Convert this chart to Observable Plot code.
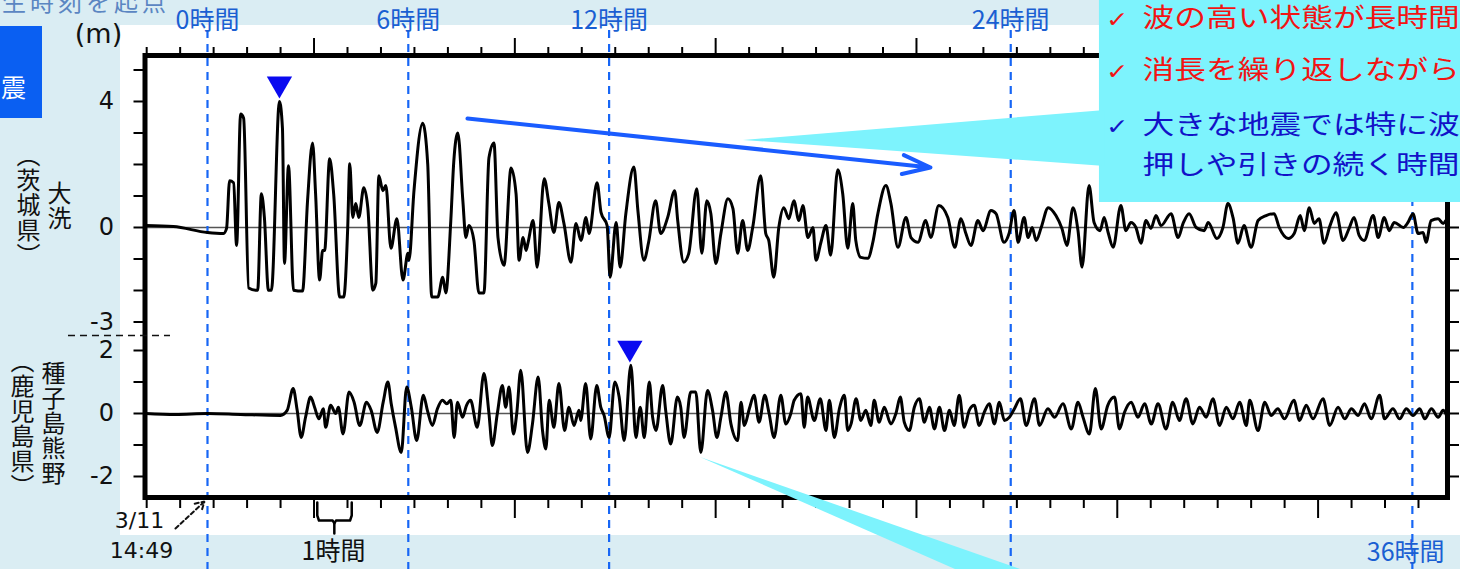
<!DOCTYPE html>
<html><head><meta charset="utf-8">
<script src="https://cdn.jsdelivr.net/npm/d3@7"></script>
<script src="https://cdn.jsdelivr.net/npm/@observablehq/plot@0.6"></script>
<style>
html,body{margin:0;padding:0;background:#daedf3;}
#wrap{position:relative;width:1460px;height:569px;overflow:hidden;background:#daedf3;}
#white{position:absolute;left:120px;top:25px;width:1340px;height:510px;background:#fff;}
#chart{position:absolute;left:0;top:0;}
.vt{position:absolute;writing-mode:vertical-rl;font-family:"Noto Sans CJK JP";font-size:24px;line-height:1;color:#111;letter-spacing:1px;white-space:nowrap;}
.co{position:absolute;left:1106px;font-family:"Noto Sans CJK JP";font-size:26px;line-height:26px;white-space:nowrap;transform:scaleX(1.22);transform-origin:0 0;}
.co .ck{display:inline-block;width:30px;font-family:"DejaVu Sans";font-size:22px;}
</style></head>
<body>
<div id="wrap">
  <div id="white"></div>
  <div style="position:absolute;right:1290px;top:-17px;font-family:'Noto Sans CJK JP';font-size:24px;letter-spacing:4px;color:#5b86c2;white-space:nowrap;">地震発生時刻を起点</div>
  <div style="position:absolute;left:0;top:26px;width:42px;height:92px;background:#0a5ff2;"></div>
  <div style="position:absolute;left:1px;top:74px;font-family:'Noto Sans CJK JP';font-size:25px;line-height:25px;color:#fff;">震</div>
  <div id="chart"></div>
  <div class="vt" style="left:47px;top:181px;">大洗</div>
  <div class="vt" style="left:16px;top:143px;">（茨城県）</div>
  <div class="vt" style="left:41px;top:361px;">種子島熊野</div>
  <div class="vt" style="left:10px;top:349px;">（鹿児島県）</div>
  <div class="co" style="top:3px;color:#f21414;"><span class="ck">✓</span>波の高い状態が長時間</div>
  <div class="co" style="top:55px;color:#f21414;"><span class="ck">✓</span>消長を繰り返しながら</div>
  <div class="co" style="top:110px;color:#1212c8;"><span class="ck">✓</span>大きな地震では特に波</div>
  <div class="co" style="top:150px;color:#1212c8;padding-left:30px;">押しや引きの続く時間</div>
</div>
<script>
// ---- data: hours since 3/11 14:49, sea level anomaly (m) ----
const oaraiHours = [
-1.85,-1.02,0,0.48,0.57,0.66,0.78,0.87,0.99,1.08,
1.23,1.44,1.50,1.61,1.70,1.82,1.91,2.15,2.24,2.30,
2.42,2.57,2.84,2.99,3.14,3.23,3.35,3.44,3.50,3.65,
3.77,3.95,4.07,4.19,4.25,4.34,4.43,4.52,4.67,4.79,
4.94,5.03,5.12,5.24,5.33,5.48,5.66,5.84,5.99,6.02,
6.17,6.43,6.58,6.70,6.88,7.03,7.12,7.27,7.36,7.48,
7.63,7.72,7.81,7.96,8.11,8.26,8.41,8.56,8.68,8.86,
9.07,9.22,9.31,9.43,9.52,9.58,9.73,9.85,10.06,10.20,
10.35,10.50,10.65,10.86,11.01,11.16,11.31,11.40,11.64,11.76,
11.94,12.03,12.21,12.33,12.50,12.74,12.86,13.04,13.18,13.39,
13.54,13.75,13.96,14.05,14.23,14.38,14.62,14.77,14.92,15.04,
15.19,15.34,15.55,15.70,15.84,15.99,16.14,16.29,16.53,16.68,
16.77,16.92,17.07,17.22,17.37,17.52,17.67,17.79,17.94,18.09,
18.18,18.33,18.48,18.62,18.83,18.98,19.13,19.28,19.37,19.52,
19.73,19.88,20.03,20.27,20.42,20.63,20.87,21.02,21.23,21.46,
21.61,21.85,22.12,22.33,22.51,22.66,22.81,23.02,23.17,23.41,
23.56,23.80,23.95,24.10,24.22,24.40,24.52,24.64,24.76,24.91,
25.12,25.35,25.53,25.68,25.86,26.01,26.13,26.34,26.49,26.67,
26.79,26.91,27.06,27.29,27.44,27.59,27.74,27.89,28.04,28.19,
28.34,28.49,28.79,29.00,29.15,29.33,29.54,29.78,29.90,30.16,
30.34,30.49,30.64,30.79,30.97,31.18,31.39,31.63,31.87,32.02,
32.29,32.47,32.65,32.77,32.92,33.07,33.21,33.36,33.54,33.72,
33.93,34.11,34.26,34.41,34.56,34.83,34.98,35.16,35.31,35.46,
35.73,35.87,36.02,36.17,36.32,36.41,36.56,36.77,36.92,37.0];
const oaraiLevel = [
0.06,0.03,-0.16,-0.19,-0.03,1.48,1.42,-0.57,3.6,3.47,
-1.92,-1.99,-1.99,1.07,0.32,-1.99,-1.99,4.0,3.15,-1.14,
1.96,-1.99,-2.02,0.85,2.68,1.07,-1.67,-0.73,-0.73,2.18,
1.07,-2.21,-2.21,0,2.02,0.32,0.76,0.32,1.26,0.63,
-1.99,-1.77,1.64,1.17,1.33,-0.66,0.28,-1.67,-0.82,-1.04,
1.17,3.31,2.02,-2.21,-2.21,-1.58,-2.08,0.22,2.11,3.0,
0.85,-0.32,0.06,-0.41,-2.08,-2.08,2.21,2.68,-0.32,-1.2,
1.89,1.07,-1.04,-0.32,-0.73,-0.47,0.22,-1.26,1.55,0.76,
-0.16,0.79,0.13,-1.1,0.13,-0.41,0.32,-0.19,1.42,0.47,
0.06,-1.58,0.16,-1.26,0.44,1.92,0.54,-1.04,-0.47,0.85,
-0.19,0.32,1.17,0.22,-1.1,-0.82,1.23,-0.82,0.85,0.44,
-1.14,-0.19,0.91,0.6,-0.82,0.22,-0.73,0,1.64,-0.19,
-0.41,-1.58,0,0.63,0.28,0.85,0.22,0.7,-0.32,0,
-1.04,-0.47,0.06,-0.88,1.83,1.07,-0.66,0.76,-0.41,-0.95,
-0.98,-0.47,0.44,1.33,0.76,-0.63,0.32,-0.32,-0.47,0.22,
-0.32,0.7,0.32,-0.63,0.28,-0.19,-0.57,0.22,-0.1,0.54,
0.44,-0.47,-0.19,0.54,-0.47,0.32,-0.32,0,-0.41,0,
0.63,0.38,-0.03,-0.57,0.63,-0.1,-1.26,1.33,0.16,-0.1,
0.32,-0.16,-0.63,0.7,-0.1,0.16,0,-0.5,0.22,-0.03,
0.38,0.06,0.44,-0.32,0.13,0.44,0,-0.1,0.16,-0.35,
0,0.76,0.32,-0.5,0.06,-0.63,0.22,0.38,0.44,0,
-0.35,-0.19,0.38,-0.1,0.63,0.13,0.28,-0.5,0.06,0.47,
-0.41,-0.03,0.32,-0.25,-0.41,0.38,-0.32,0.32,-0.1,0.16,
0,0.16,0.44,-0.19,-0.16,-0.47,0.22,0.28,0.13,0.22];

const kumanoHours = [
-1.85,-0.96,0,0.99,2.18,2.38,2.56,2.68,2.80,2.93,
3.08,3.20,3.33,3.46,3.53,3.68,3.83,3.91,4.05,4.23,
4.38,4.55,4.75,4.89,5.07,5.25,5.39,5.49,5.62,5.79,
5.95,6.09,6.25,6.45,6.57,6.72,6.87,7.02,7.15,7.27,
7.37,7.47,7.62,7.74,7.86,8.06,8.26,8.41,8.51,8.66,
8.81,8.91,9.01,9.14,9.24,9.36,9.56,9.71,9.88,10.01,
10.11,10.21,10.35,10.50,10.67,10.80,10.95,11.10,11.15,11.30,
11.45,11.63,11.75,11.85,12.00,12.17,12.30,12.45,12.65,12.80,
12.93,13.05,13.20,13.30,13.40,13.60,13.69,13.84,14.04,14.14,
14.24,14.44,14.59,14.74,14.94,15.09,15.22,15.34,15.49,15.64,
15.84,15.94,16.04,16.19,16.33,16.48,16.65,16.78,16.93,17.13,
17.28,17.43,17.53,17.73,17.83,17.93,18.13,18.31,18.48,18.58,
18.73,18.88,19.03,19.13,19.23,19.38,19.52,19.67,19.82,19.92,
20.07,20.22,20.42,20.57,20.70,20.82,20.97,21.12,21.27,21.42,
21.57,21.72,21.87,22.02,22.17,22.31,22.46,22.61,22.76,22.91,
23.06,23.21,23.36,23.51,23.66,23.81,23.96,24.11,24.29,24.46,
24.71,24.86,25.11,25.31,25.56,25.81,26.01,26.16,26.35,26.53,
26.70,26.90,27.10,27.25,27.40,27.60,27.80,28.00,28.20,28.40,
28.64,28.84,29.04,29.24,29.44,29.64,29.84,30.04,30.24,30.44,
30.64,30.84,31.04,31.14,31.39,31.59,31.78,31.98,32.18,32.46,
32.63,32.83,33.03,33.33,33.53,33.78,33.98,34.18,34.38,34.57,
34.77,35.02,35.17,35.42,35.62,35.82,36.02,36.22,36.37,36.57,
36.77,36.92,37.02];
const kumanoLevel = [
0,-0.03,0,-0.03,-0.06,0.1,0.79,0.1,-0.76,-0.12,
0.52,0.2,-0.17,0.15,-0.44,0.26,0,0.2,-0.65,0.68,
0.36,-0.38,0.36,0.1,-0.6,0.36,1.0,0.31,-0.44,-1.24,
0.84,0.2,-0.86,0.58,0.1,-0.38,0.15,0.42,0.31,0.42,
-0.76,0.36,-0.12,0.26,0.42,-0.44,1.27,0,-1.02,0,
0.89,0.2,0.84,-0.65,0,1.37,-1.24,-0.33,1.16,-0.54,
-1.13,0.42,-0.44,0.95,-0.54,0.2,-0.38,0.1,-0.22,0.95,
-0.81,0.89,0.2,-0.06,-0.76,1.0,0.52,-0.86,1.53,-0.76,
0.2,-0.76,1.0,-0.12,-0.54,0.89,0.1,-0.97,0.52,0.2,
-0.76,0.68,0.68,-1.24,0.73,0.1,-0.76,-0.12,0.68,-0.33,
-0.86,0.36,-0.38,0.15,0.58,-0.28,0.58,0,-0.76,0.58,
-0.33,0,0.42,0.63,-0.44,0.52,-0.22,0.47,-0.54,0.42,
-0.76,0.15,0.58,-0.54,-0.33,0.47,-0.22,0.1,-0.38,0.42,
-0.28,0.2,-0.33,0,0.52,-0.28,-0.54,0.2,0.47,-0.28,
0.2,-0.49,0.2,-0.54,0.1,-0.38,0.58,-0.44,0.1,0.26,
-0.38,0.04,0.31,-0.33,0.36,-0.22,-0.12,0.15,0.47,-0.38,
0.47,-0.38,0.15,-0.12,0.31,-0.49,0.36,-0.12,-0.65,0.79,
-0.49,0.26,0.52,-0.49,0.04,0.36,-0.12,0.31,-0.33,0.31,
-0.49,0.36,-0.22,0.47,-0.33,0.2,-0.12,0.47,-0.38,0.2,
-0.17,0.36,-0.38,0.42,-0.54,0.36,-0.06,0.15,-0.17,0.42,
-0.22,0.26,-0.17,0.47,-0.38,0.2,-0.17,0.15,-0.06,0.31,
-0.17,0.58,-0.17,0.15,-0.17,0.15,-0.06,0.15,-0.17,0.15,
-0.12,0.1,-0.06];

// peak markers (hours, level)
const peakHours = [2.15, 12.62];
const peakLevel = [4.0, 1.53];

// tick / label values
const upperTicks = [-3,-2,-1,0,1,2,3,4,5];
const upperLabeled = [4,0,-3];
const lowerTicks = [-2,-1,0,1,2];
const lowerLabeled = [2,0,-2];
const markHours = [0, 6, 12, 24, 36];
const topLabelHours = [0, 6, 12, 24];
const topLabels = ["0時間","6時間","12時間","24時間"];
const bottomLabelHours = [36];
const bottomLabels = ["36時間"];

// ---- layout helpers (stacked panels share one y scale) ----
const OFF = 5.905;                 // vertical offset of the 大洗 panel
const xDomain = [-1.867, 37.05];
const yDomain = [-2.667, 11.365];
const py = px => (413 - px) / 31.5;     // annotation placement helpers
const hx = px => (px - 207) / 33.47;

const upper = oaraiHours.map((h, i) => ({h, p: oaraiLevel[i] + OFF}));
const lower = kumanoHours.map((h, i) => ({h, p: kumanoLevel[i]}));
const peaks = [
  {h: peakHours[0], p: peakLevel[0] + OFF + 0.56},
  {h: peakHours[1], p: peakLevel[1] + 0.55}
];
const yTicks = lowerTicks.concat(upperTicks.map(v => v + OFF));
const fmtY = d => {
  if (d > 2.5) { const v = Math.round(d - OFF); return upperLabeled.includes(v) ? String(v) : ""; }
  const v = Math.round(d); return lowerLabeled.includes(v) ? String(v) : "";
};
const clock = d3.range(-2, 37).map(k => ({k, h: k + 11/60}));
const longT = clock.filter(d => (15 + d.k) % 6 === 0).map(d => d.h);
const shortT = clock.filter(d => (15 + d.k) % 6 !== 0).map(d => d.h);

const blue = "#1766f5";
const cyan = "#7df3fd";

const brace = [
  {h:3.28,p:py(502)},{h:3.28,p:py(515)},{h:3.33,p:py(520)},{h:3.74,p:py(520)},{h:3.79,p:py(523)},{h:3.79,p:py(533)}
];
const brace2 = [
  {h:4.31,p:py(502)},{h:4.31,p:py(515)},{h:4.26,p:py(520)},{h:3.84,p:py(520)},{h:3.79,p:py(523)}
];

const chart = Plot.plot({
  width: 1460, height: 569,
  marginLeft: 144.5, marginRight: 13, marginTop: 55, marginBottom: 72,
  style: {background: "transparent", overflow: "visible"},
  x: {domain: xDomain},
  y: {domain: yDomain},
  marks: [
    Plot.ruleY([0, OFF], {stroke: "#555", strokeWidth: 1.5}),
    Plot.ruleX(markHours, {y1: py(30), y2: py(569), stroke: blue, strokeWidth: 2.2, strokeDasharray: "8,6"}),
    Plot.line(upper, {x: "h", y: "p", stroke: "#000", strokeWidth: 3, strokeLinejoin: "round", curve: "monotone-x"}),
    Plot.line(lower, {x: "h", y: "p", stroke: "#000", strokeWidth: 3, strokeLinejoin: "round", curve: "monotone-x"}),
    Plot.frame({stroke: "#000", strokeWidth: 5}),
    Plot.axisX({anchor: "top", ticks: shortT, tickSize: 9, tickFormat: () => "", strokeWidth: 2, label: null}),
    Plot.axisX({anchor: "top", ticks: longT, tickSize: 18, tickFormat: () => "", strokeWidth: 2, label: null}),
    Plot.axisX({anchor: "bottom", ticks: shortT, tickSize: 11, tickFormat: () => "", strokeWidth: 2, label: null}),
    Plot.axisX({anchor: "bottom", ticks: longT, tickSize: 21, tickFormat: () => "", strokeWidth: 2, label: null}),
    Plot.axisY({anchor: "left", ticks: yTicks, tickSize: 11, tickPadding: 20, tickFormat: fmtY, strokeWidth: 2, fontSize: 24, fontFamily: "DejaVu Sans", fill: "#111", label: null}),
    Plot.axisY({anchor: "right", ticks: yTicks, tickSize: 11, tickFormat: () => "", strokeWidth: 2, label: null}),
    Plot.ruleY([py(335)], {x1: hx(68), x2: hx(170), stroke: "#111", strokeWidth: 1.5, strokeDasharray: "7,5"}),
    Plot.dot(peaks, {x: "h", y: "p", symbol: "triangle", rotate: 180, r: 9.4, fill: "#0a0af0", stroke: "none"}),
    Plot.line(brace, {x: "h", y: "p", stroke: "#000", strokeWidth: 2.5}),
    Plot.line(brace2, {x: "h", y: "p", stroke: "#000", strokeWidth: 2.5}),
    Plot.text(["1時間"], {x: hx(333), y: py(552), text: d => d, fontSize: 25, fontFamily: "Noto Sans CJK JP", fill: "#111"}),
    Plot.text(["3/11"], {x: hx(139), y: py(520), text: d => d, fontSize: 22, fontFamily: "DejaVu Sans", fill: "#111"}),
    Plot.text(["14:49"], {x: hx(141), y: py(550), text: d => d, fontSize: 22, fontFamily: "DejaVu Sans", fill: "#111"}),
    Plot.text(["(m)"], {x: hx(98), y: py(34), text: d => d, fontSize: 27, fontFamily: "DejaVu Sans", fill: "#111"}),
    Plot.arrow([0], {x1: hx(175), y1: py(528), x2: hx(204), y2: py(501), stroke: "#111", strokeWidth: 2, strokeDasharray: "4,3", headLength: 7.5, headAngle: 60}),
    Plot.rect([0], {x1: hx(1099), x2: hx(1470), y1: py(202), y2: py(-10), fill: cyan}),
    Plot.areaY([{h: hx(743), lo: py(140), hi: py(140)}, {h: hx(1105), lo: py(166), hi: py(110)}], {x: "h", y1: "lo", y2: "hi", fill: cyan}),
    Plot.areaX([{p: py(457), a: hx(700), b: hx(700)}, {p: py(569), a: hx(955), b: hx(1020)}], {y: "p", x1: "a", x2: "b", fill: cyan}),
    Plot.arrow([0], {x1: hx(467), y1: py(118), x2: hx(930), y2: py(167), stroke: "#1a5cff", strokeWidth: 4, headLength: 11, headAngle: 38}),
    Plot.text(topLabels, {x: (d, i) => topLabelHours[i], y: py(21), text: d => d, fontSize: 25, fontFamily: "Noto Sans CJK JP", fill: "#1a5fd2"}),
    Plot.text(bottomLabels, {x: (d, i) => bottomLabelHours[i] - 0.2, y: py(553), text: d => d, fontSize: 25, fontFamily: "Noto Sans CJK JP", fill: "#1a5fd2"})
  ]
});
document.getElementById("chart").appendChild(chart);
</script>
</body></html>
